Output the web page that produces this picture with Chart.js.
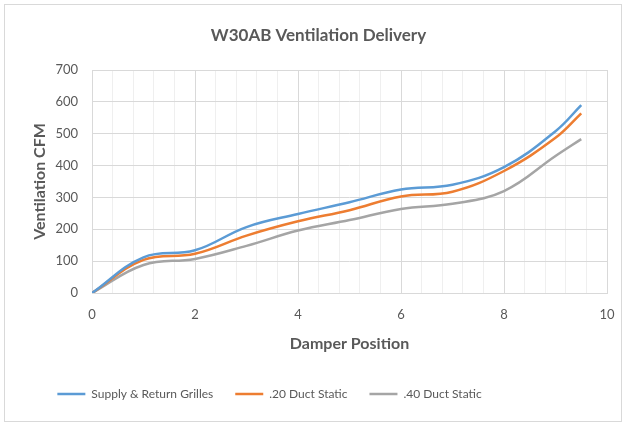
<!DOCTYPE html>
<html>
<head>
<meta charset="utf-8">
<script src="https://cdn.jsdelivr.net/npm/chart.js@4"></script>
<style>
  html, body { margin: 0; padding: 0; background: #fff; }
  #wrap { position: relative; width: 631px; height: 424px; }
  #frame { position: absolute; left: 4px; top: 4px; width: 616px; height: 416px; border: 1px solid #d9d9d9; pointer-events: none; }
</style>
</head>
<body>
<div id="wrap">
  <canvas id="c" width="631" height="424"></canvas>
  <div id="frame"></div>
</div>
<script>
const damperPositions = [0, 1, 2, 3, 4, 5, 6, 7, 8, 9, 9.5];
const supplyReturnGrilles = [0, 112, 134, 207, 248, 285, 325, 340, 395, 508, 590];
const ductStatic20 = [0, 104, 123, 180, 225, 260, 303, 318, 383, 487, 564];
const ductStatic40 = [0, 88, 107, 148, 196, 229, 264, 280, 320, 430, 483];
const seriesNames = ['Supply & Return Grilles', '.20 Duct Static', '.40 Duct Static'];
const xTickLabels = [0, 2, 4, 6, 8, 10];
const yTickLabels = [0, 100, 200, 300, 400, 500, 600, 700];

const FONT = 'Lato, "Open Sans", sans-serif';
const TXT = '#595959';
const toPts = arr => damperPositions.map((x, i) => ({ x: x, y: arr[i] }));
const mk = (label, data, color) => ({
  label, data: toPts(data), borderColor: color, backgroundColor: color,
  borderWidth: 2.5, pointRadius: 0, pointHoverRadius: 0, tension: 0.4, fill: false
});

const nudge = {
  id: 'nudge',
  afterLayout(chart) {
    const t = chart.titleBlock, l = chart.legend;
    if (t) { t.left += 15; t.right += 15; }
    if (l) { l.left -= 34; l.right -= 34; }
  }
};

new Chart(document.getElementById('c'), {
  type: 'line',
  data: {
    datasets: [
      mk(seriesNames[0], supplyReturnGrilles, '#5B9BD5'),
      mk(seriesNames[1], ductStatic20, '#ED7D31'),
      mk(seriesNames[2], ductStatic40, '#A5A5A5')
    ]
  },
  plugins: [nudge],
  options: {
    responsive: false,
    animation: false,
    events: [],
    layout: { padding: { left: 0, right: 24, top: 0, bottom: 14 } },
    plugins: {
      title: {
        display: true, text: 'W30AB Ventilation Delivery', color: TXT,
        font: { family: FONT, size: 17, weight: 'bold' },
        padding: { top: 25, bottom: 24.6 }
      },
      legend: {
        position: 'bottom',
        labels: {
          usePointStyle: true, pointStyle: 'line', pointStyleWidth: 28,
          color: TXT, font: { family: FONT, size: 12 }, padding: 22
        }
      },
      tooltip: { enabled: false }
    },
    scales: {
      x: {
        type: 'linear', min: 0, max: 10,
        afterFit: s => { s.height = 73; },
        ticks: {
          stepSize: 0.4, autoSkip: false, maxRotation: 0, color: TXT, padding: 14,
          font: { family: FONT, size: 13 },
          callback: v => {
            const ok = xTickLabels.find(t => Math.abs(t - v) < 1e-6);
            return ok === undefined ? '' : String(ok);
          }
        },
        grid: {
          drawTicks: false,
          color: ctx => {
            const v = ctx.tick ? ctx.tick.value : 0;
            return xTickLabels.some(t => Math.abs(t - v) < 1e-6) ? '#d9d9d9' : '#efefef';
          }
        },
        border: { color: '#d9d9d9' },
        title: {
          display: true, text: 'Damper Position', color: TXT,
          font: { family: FONT, size: 16, weight: 'bold' }, padding: { top: 13, bottom: 13 }
        }
      },
      y: {
        min: 0, max: 700,
        afterFit: s => { s.width = 92; },
        afterBuildTicks: s => { s.ticks = yTickLabels.map(v => ({ value: v })); },
        ticks: { color: TXT, padding: 14, font: { family: FONT, size: 13 } },
        grid: { drawTicks: false, color: '#d9d9d9' },
        border: { display: false },
        title: {
          display: true, text: 'Ventilation CFM', color: TXT,
          font: { family: FONT, size: 16, weight: 'bold' }, padding: { top: 30, bottom: 0 }
        }
      }
    }
  }
});
</script>
</body>
</html>
